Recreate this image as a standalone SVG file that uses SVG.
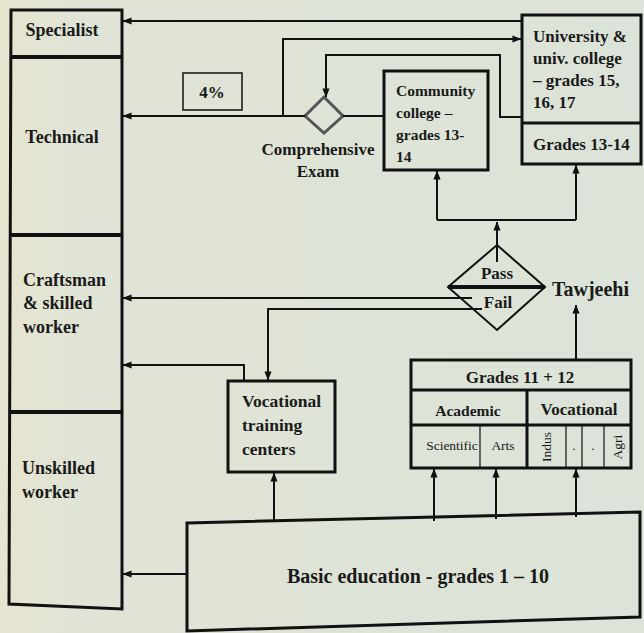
<svg xmlns="http://www.w3.org/2000/svg" width="644" height="633" viewBox="0 0 644 633">
<defs>
<linearGradient id="bg" x1="0" y1="0" x2="1" y2="0">
<stop offset="0" stop-color="#e7e4cf"/>
<stop offset="0.12" stop-color="#e0e4d6"/>
<stop offset="1" stop-color="#dce3d8"/>
</linearGradient>
<marker id="a" viewBox="0 0 10 10" refX="9.5" refY="5" markerWidth="9" markerHeight="9" orient="auto" markerUnits="userSpaceOnUse">
<path d="M0,1 L10,5 L0,9 z" fill="#111"/>
</marker>
</defs>
<style>
.box{fill:none;stroke:#111;stroke-width:3}
.div{fill:none;stroke:#111;stroke-width:4}
.thin{fill:none;stroke:#111;stroke-width:1.2}
.c{fill:none;stroke:#111;stroke-width:2}
.ca{fill:none;stroke:#111;stroke-width:2;marker-end:url(#a)}
text{font-family:"Liberation Serif","Times New Roman",serif;font-weight:bold;fill:#1a1a1a;font-size:17px}
.m{text-anchor:middle}
.l{font-size:18px}
.cc{font-size:15.5px}
.vt{font-size:17.5px}
.tw{font-size:20px}
.be{font-size:20px}
.ac{font-size:15.5px}
.s{font-weight:normal;font-size:13.5px}
</style>
<rect width="644" height="633" fill="url(#bg)"/>

<g id="workforce">
<path class="box" d="M11,10 H122 V609 L9,604 Z"/>
<path class="div" d="M11,57 H122"/>
<path class="div" d="M11,235 H122"/>
<path class="div" d="M10,412 H122"/>
</g>
<g id="specialist"><text x="62" y="36" class="m l">Specialist</text></g>
<g id="technical"><text x="62" y="143" class="m l">Technical</text></g>
<g id="craftsman">
<text x="23" y="286" class="l">Craftsman</text>
<text x="23" y="309" class="l">&amp; skilled</text>
<text x="23" y="333" class="l">worker</text>
</g>
<g id="unskilled">
<text x="22" y="474" class="l">Unskilled</text>
<text x="22" y="498" class="l">worker</text>
</g>

<g id="pct">
<rect x="183" y="73" width="59" height="37" fill="none" stroke="#111" stroke-width="1.5"/>
<text x="212" y="98" class="m">4%</text>
</g>

<g id="comprehensive-exam">
<path d="M324,97 L343,116 L324,133 L305,116 Z" fill="none" stroke="#555" stroke-width="3"/>
<text x="318" y="155" class="m">Comprehensive</text>
<text x="318" y="177" class="m">Exam</text>
</g>

<g id="community-college">
<rect class="box" x="384" y="71" width="104" height="99"/>
<text x="396" y="96" class="cc">Community</text>
<text x="396" y="118" class="cc">college –</text>
<text x="396" y="140" class="cc">grades 13-</text>
<text x="396" y="162" class="cc">14</text>
</g>

<g id="university">
<path class="box" d="M522,164 V15 H641 V164 Z"/>
<path class="box" d="M522,123 H641"/>
<text x="533" y="42">University &amp;</text>
<text x="533" y="64">univ. college</text>
<text x="533" y="86">– grades 15,</text>
<text x="533" y="108">16, 17</text>
<text x="533" y="150">Grades 13-14</text>
</g>

<g id="tawjeehi">
<path d="M497,245 L545,287 L497,330 L448,287 Z" fill="none" stroke="#111" stroke-width="2"/>
<path d="M448,287 H545" stroke="#111" stroke-width="4"/>
<text x="497" y="279" class="m">Pass</text>
<text x="498" y="308" class="m">Fail</text>
<text x="552" y="296" class="tw">Tawjeehi</text>
</g>

<g id="vocational-training">
<rect class="box" x="228" y="381" width="107" height="91"/>
<text x="242" y="407" class="vt">Vocational</text>
<text x="242" y="431" class="vt">training</text>
<text x="242" y="455" class="vt">centers</text>
</g>

<g id="grades-11-12">
<rect class="box" x="411" y="360" width="220" height="108"/>
<path class="box" d="M411,390 H631 M411,425 H631 M527,390 V468"/>
<path class="thin" d="M480,425 V468 M566,425 V468 M582,425 V468 M604,425 V468"/>
<text x="520" y="383" class="m">Grades 11 + 12</text>
<text x="468" y="416" class="m ac">Academic</text>
<text x="579" y="415" class="m">Vocational</text>
<text x="452" y="450" class="m s">Scientific</text>
<text x="503" y="450" class="m s">Arts</text>
<text transform="translate(551,447) rotate(-90)" class="m s">Indus</text>
<text x="574" y="450" class="m s">.</text>
<text x="593" y="450" class="m s">.</text>
<text transform="translate(622,447) rotate(-90)" class="m s">Agri</text>
</g>

<g id="basic-education">
<path class="box" d="M187,523 L640,512 V617 L187,631 Z"/>
<text x="418" y="583" class="m be">Basic education - grades 1 – 10</text>
</g>

<g id="connectors">
<path class="ca" d="M522,21 H123"/>
<path class="ca" d="M283,116 V39 H521"/>
<path class="ca" d="M522,117 H500 V55 H326 V97"/>
<path class="c" d="M343,116 H384"/>
<path class="ca" d="M305,116 H123"/>
<path class="ca" d="M497,262 V222"/>
<path class="c" d="M437,220 H576"/>
<path class="ca" d="M437,220 V171"/>
<path class="ca" d="M576,220 V165"/>
<path class="ca" d="M472,298 H123"/>
<path class="ca" d="M482,309 H268 V380"/>
<path class="ca" d="M244,381 V365 H123"/>
<path class="ca" d="M274,522 V473"/>
<path class="ca" d="M187,574 H123"/>
<path class="ca" d="M434,521 V469"/>
<path class="ca" d="M496,519 V469"/>
<path class="ca" d="M576,517 V469"/>
<path class="ca" d="M576,360 V305"/>
</g>
</svg>
